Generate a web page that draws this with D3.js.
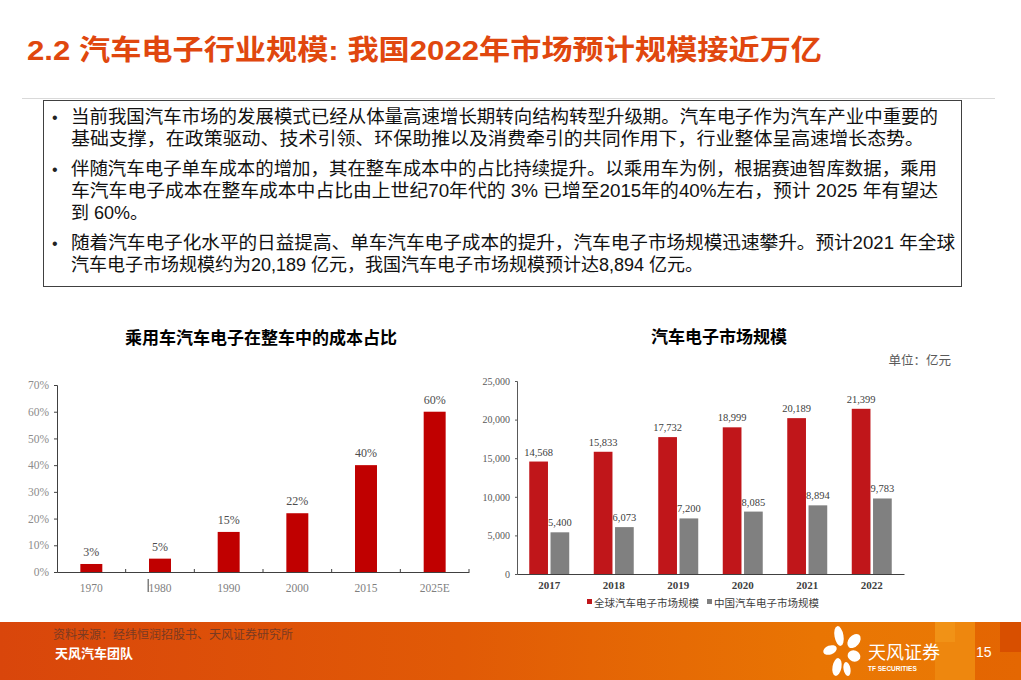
<!DOCTYPE html>
<html><head><meta charset="utf-8">
<script src="https://cdn.jsdelivr.net/npm/d3@7"></script>
<style>
html,body{margin:0;padding:0;background:#fff;}
svg{display:block;}
</style></head>
<body>
<svg id="chart" width="1021" height="680"></svg>
<script>
// ---------- data ----------
const pageTitle = "2.2 汽车电子行业规模: 我国2022年市场预计规模接近万亿";
const bulletLines = [
  ["当前我国汽车市场的发展模式已经从体量高速增长期转向结构转型升级期。汽车电子作为汽车产业中重要的",
   "基础支撑，在政策驱动、技术引领、环保助推以及消费牵引的共同作用下，行业整体呈高速增长态势。"],
  ["伴随汽车电子单车成本的增加，其在整车成本中的占比持续提升。以乘用车为例，根据赛迪智库数据，乘用",
   "车汽车电子成本在整车成本中占比由上世纪70年代的 3% 已增至2015年的40%左右，预计 2025 年有望达",
   "到 60%。"],
  ["随着汽车电子化水平的日益提高、单车汽车电子成本的提升，汽车电子市场规模迅速攀升。预计2021 年全球",
   "汽车电子市场规模约为20,189 亿元，我国汽车电子市场规模预计达8,894 亿元。"]
];

const leftTitle = "乘用车汽车电子在整车中的成本占比";
const leftCategories = ["1970", "1980", "1990", "2000", "2015", "2025E"];
const leftValues = [0.03, 0.05, 0.15, 0.22, 0.40, 0.60];
const leftTicks = [0, 0.1, 0.2, 0.3, 0.4, 0.5, 0.6, 0.7];

const rightTitle = "汽车电子市场规模";
const rightUnit = "单位：亿元";
const rightCategories = ["2017", "2018", "2019", "2020", "2021", "2022"];
const globalValues = [14568, 15833, 17732, 18999, 20189, 21399];
const chinaValues = [5400, 6073, 7200, 8085, 8894, 9783];
const rightTicks = [0, 5000, 10000, 15000, 20000, 25000];
const seriesNames = ["全球汽车电子市场规模", "中国汽车电子市场规模"];

const sourceText = "资料来源：经纬恒润招股书、天风证券研究所";
const teamText = "天风汽车团队";
const brandText = "天风证券";
const brandSub = "TF SECURITIES";
const pageNum = "15";

// ---------- drawing ----------
const svg = d3.select("#chart");
const CJK = "'Noto Sans CJK SC', sans-serif";
const SANS = "'Liberation Sans', Arial, 'Noto Sans CJK SC', sans-serif";
const SERIF = "'Liberation Serif', 'Times New Roman', 'Noto Sans CJK SC', serif";

// title
svg.append("text").attr("x", 27).attr("y", 60)
  .attr("font-family", "'Liberation Sans', 'Noto Sans CJK SC', sans-serif")
  .attr("font-weight", "bold").attr("font-size", 28)
  .attr("fill", "#e0470e")
  .attr("textLength", 795).attr("lengthAdjust", "spacingAndGlyphs")
  .text(pageTitle);

svg.append("line").attr("x1", 22).attr("x2", 995).attr("y1", 98.5).attr("y2", 98.5)
  .attr("stroke", "#d9d9d9").attr("stroke-width", 1);

// text box
svg.append("rect").attr("x", 43.5).attr("y", 100.5).attr("width", 918).attr("height", 186)
  .attr("fill", "#fff").attr("stroke", "#404040").attr("stroke-width", 1);

const lineYs = [[117, 139], [169, 191, 213], [243, 265]];
const lineWidths = [[867, 853], [866, 867, 0], [884, 0]];
bulletLines.forEach((para, pi) => {
  svg.append("text").attr("x", 52).attr("y", lineYs[pi][0])
    .attr("dominant-baseline", "central").attr("font-family", SANS)
    .attr("font-size", 16).attr("fill", "#222").text("•");
  para.forEach((ln, li) => {
    const t = svg.append("text").attr("x", 71).attr("y", lineYs[pi][li])
      .attr("dominant-baseline", "central").attr("font-family", SANS)
      .attr("font-size", 18).attr("fill", "#111").text(ln);
    const w = lineWidths[pi][li];
    if (w) t.attr("textLength", w).attr("lengthAdjust", "spacingAndGlyphs");
  });
});

// ---------- left chart ----------
svg.append("text").attr("x", 261).attr("y", 336).attr("text-anchor", "middle")
  .attr("dominant-baseline", "central").attr("font-family", CJK)
  .attr("font-weight", "bold").attr("font-size", 17).attr("fill", "#000")
  .text(leftTitle);

const lx = d3.scaleBand().domain(leftCategories).range([57, 469]).paddingInner(0.68).paddingOuter(0.34);
const lxOuter = d3.scaleBand().domain(leftCategories).range([57, 469]);
const ly = d3.scaleLinear().domain([0, 0.7]).range([572, 385]);

const gl = svg.append("g");
gl.selectAll("rect.bar").data(leftValues).join("rect")
  .attr("class", "bar")
  .attr("x", (d, i) => lx(leftCategories[i]))
  .attr("width", lx.bandwidth())
  .attr("y", d => ly(d)).attr("height", d => ly(0) - ly(d))
  .attr("fill", "#c00000");

gl.selectAll("text.val").data(leftValues).join("text")
  .attr("class", "val")
  .attr("x", (d, i) => lx(leftCategories[i]) + lx.bandwidth() / 2)
  .attr("y", d => ly(d) - 8).attr("text-anchor", "middle")
  .attr("font-family", SERIF).attr("font-size", 12).attr("fill", "#4d4d4d")
  .text(d => d3.format(".0%")(d));

const lyAxis = gl.append("g").attr("transform", "translate(57,0)")
  .call(d3.axisLeft(ly).tickValues(leftTicks).tickFormat(d3.format(".0%")).tickSize(3));
lyAxis.select(".domain").attr("stroke", "#404040");
lyAxis.selectAll(".tick line").attr("stroke", "#404040");
lyAxis.selectAll("text").attr("font-family", SERIF).attr("font-size", 11.5).attr("fill", "#8c8c8c").attr("x", -8);

const lxAxis = gl.append("g").attr("transform", "translate(0,572)")
  .call(d3.axisBottom(lxOuter).tickSize(0).tickPadding(12));
lxAxis.select(".domain").attr("stroke", "#404040");
lxAxis.selectAll("text").attr("font-family", SERIF).attr("font-size", 11.5).attr("fill", "#7f7f7f");
// inner boundary ticks (pointing up)
gl.selectAll("line.bt").data(leftCategories.slice(1)).join("line")
  .attr("class", "bt")
  .attr("x1", d => lxOuter(d)).attr("x2", d => lxOuter(d))
  .attr("y1", 572).attr("y2", 569).attr("stroke", "#404040");
gl.append("line").attr("x1", 469).attr("x2", 469).attr("y1", 572).attr("y2", 569).attr("stroke", "#404040");
// stray mark before 1980 label
gl.append("rect").attr("x", lxOuter("1980") + lxOuter.bandwidth() / 2 - 12.5).attr("y", 579)
  .attr("width", 1.5).attr("height", 13).attr("fill", "#7f7f7f");

// ---------- right chart ----------
svg.append("text").attr("x", 719).attr("y", 335).attr("text-anchor", "middle")
  .attr("dominant-baseline", "central").attr("font-family", CJK)
  .attr("font-weight", "bold").attr("font-size", 17).attr("fill", "#000")
  .text(rightTitle);
svg.append("text").attr("x", 951).attr("y", 359).attr("text-anchor", "end")
  .attr("dominant-baseline", "central").attr("font-family", CJK)
  .attr("font-size", 12.5).attr("fill", "#595959").text(rightUnit);

const rx = d3.scaleBand().domain(rightCategories).range([517, 904]).paddingInner(0.38).paddingOuter(0.19);
const rxOuter = d3.scaleBand().domain(rightCategories).range([517, 904]);
const rx1 = d3.scaleBand().domain([0, 1]).range([0, rx.bandwidth()]).paddingInner(0.12);
const ry = d3.scaleLinear().domain([0, 25000]).range([574, 381]);
const colors = ["#c0161a", "#808080"];
const series = [globalValues, chinaValues];

const gr = svg.append("g");
series.forEach((vals, si) => {
  gr.selectAll("rect.s" + si).data(vals).join("rect")
    .attr("class", "s" + si)
    .attr("x", (d, i) => rx(rightCategories[i]) + rx1(si))
    .attr("width", rx1.bandwidth())
    .attr("y", d => ry(d)).attr("height", d => ry(0) - ry(d))
    .attr("fill", colors[si]);
  gr.selectAll("text.l" + si).data(vals).join("text")
    .attr("class", "l" + si)
    .attr("x", (d, i) => rx(rightCategories[i]) + rx1(si) + rx1.bandwidth() / 2)
    .attr("y", d => ry(d) - 6).attr("text-anchor", "middle")
    .attr("font-family", SERIF).attr("font-size", 10.5).attr("fill", "#404040")
    .text(d => d3.format(",")(d));
});

const ryAxis = gr.append("g").attr("transform", "translate(517,0)")
  .call(d3.axisLeft(ry).tickValues(rightTicks).tickFormat(d3.format(",")).tickSize(2));
ryAxis.select(".domain").attr("stroke", "#595959");
ryAxis.selectAll(".tick line").attr("stroke", "#595959");
ryAxis.selectAll("text").attr("font-family", SERIF).attr("font-size", 10).attr("fill", "#595959").attr("x", -7);

const rxAxis = gr.append("g").attr("transform", "translate(0,574)")
  .call(d3.axisBottom(rxOuter).tickSize(0).tickPadding(7));
rxAxis.select(".domain").attr("stroke", "#404040").attr("stroke-width", 1.2);
rxAxis.selectAll("text").attr("font-family", SERIF).attr("font-size", 11).attr("font-weight", "bold").attr("fill", "#404040");

// legend
const legX = [587, 707];
seriesNames.forEach((nm, i) => {
  gr.append("rect").attr("x", legX[i]).attr("y", 599).attr("width", 5).attr("height", 5).attr("fill", colors[i]);
  gr.append("text").attr("x", legX[i] + 7).attr("y", 602).attr("dominant-baseline", "central")
    .attr("font-family", CJK).attr("font-size", 10.5).attr("fill", "#404040").text(nm);
});

// ---------- footer ----------
const defs = svg.append("defs");
const grad = defs.append("linearGradient").attr("id", "fg").attr("x1", 0).attr("x2", 1).attr("y1", 0).attr("y2", 0);
grad.append("stop").attr("offset", 0).attr("stop-color", "#d9460b");
grad.append("stop").attr("offset", 0.45).attr("stop-color", "#e15a06");
grad.append("stop").attr("offset", 0.8).attr("stop-color", "#e97503");
grad.append("stop").attr("offset", 1).attr("stop-color", "#ea7a05");
svg.append("rect").attr("x", 0).attr("y", 622).attr("width", 1021).attr("height", 58).attr("fill", "url(#fg)");
// decorative blocks on right
svg.append("rect").attr("x", 935).attr("y", 622).attr("width", 40).attr("height", 58).attr("fill", "#ef8d12").attr("opacity", 0.7);
svg.append("rect").attr("x", 935).attr("y", 622).attr("width", 20).attr("height", 20).attr("fill", "#f39a1c").attr("opacity", 0.6);
svg.append("rect").attr("x", 975).attr("y", 622).attr("width", 46).attr("height", 58).attr("fill", "#e05a00").attr("opacity", 0.6);
svg.append("rect").attr("x", 1000).attr("y", 622).attr("width", 21).attr("height", 30).attr("fill", "#d04000").attr("opacity", 0.6);

svg.append("text").attr("x", 53).attr("y", 633).attr("dominant-baseline", "central")
  .attr("font-family", CJK).attr("font-size", 12).attr("fill", "#7a3a22").text(sourceText);
svg.append("text").attr("x", 55).attr("y", 652).attr("dominant-baseline", "central")
  .attr("font-family", CJK).attr("font-weight", "bold").attr("font-size", 13).attr("fill", "#fff").text(teamText);

// logo petals
const logo = svg.append("g").attr("transform", "translate(843,652)").attr("fill", "#fff");
const petals = [[-4,-16,4.5,10,-10],[11,-11,5.5,8,40],[-13,-2,7,4.5,-20],[11,4,6.5,5.5,20],[-6,15,4.5,9,10],[4,17,3.5,7,-10]];
petals.forEach(p => logo.append("ellipse").attr("cx", 0).attr("cy", 0).attr("rx", p[2]).attr("ry", p[3])
  .attr("transform", `translate(${p[0]},${p[1]}) rotate(${p[4]})`));
svg.append("text").attr("x", 868).attr("y", 651).attr("dominant-baseline", "central")
  .attr("font-family", CJK).attr("font-size", 18).attr("fill", "#fff").text(brandText);
svg.append("text").attr("x", 868).attr("y", 668).attr("dominant-baseline", "central")
  .attr("font-family", SANS).attr("font-weight", "bold").attr("font-size", 6.5).attr("fill", "#fff").text(brandSub);
svg.append("text").attr("x", 976).attr("y", 652).attr("dominant-baseline", "central")
  .attr("font-family", SANS).attr("font-size", 14).attr("fill", "#fff").text(pageNum);
</script>
</body></html>
